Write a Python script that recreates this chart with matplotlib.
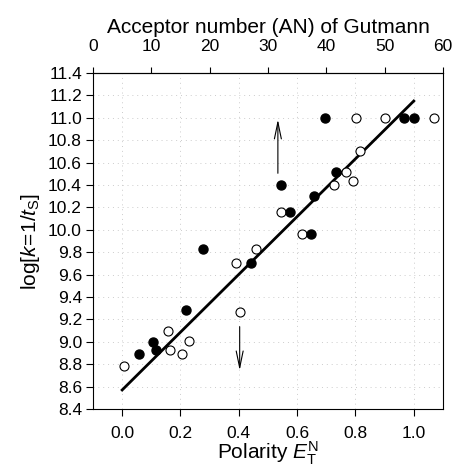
import matplotlib.pyplot as plt

# open circles
open_x = [0.005, 0.156, 0.164, 0.206, 0.230, 0.389, 0.403, 0.46, 0.546, 0.618,
          0.725, 0.766, 0.792, 0.802, 0.814, 0.901, 1.07]
open_y = [8.78, 9.10, 8.93, 8.89, 9.01, 9.70, 9.27, 9.83, 10.16, 9.96,
          10.40, 10.52, 10.44, 11.0, 10.70, 11.0, 11.0]

# filled circles
full_x = [0.059, 0.105, 0.116, 0.219, 0.278, 0.442, 0.543, 0.574, 0.646, 0.659,
          0.697, 0.732, 0.967, 1.002]
full_y = [8.89, 9.00, 8.93, 9.28, 9.83, 9.70, 10.40, 10.16, 9.96, 10.30,
          11.0, 10.52, 11.0, 11.0]

# regression line
fit_x = [0.0, 1.0]
fit_y = [8.57, 11.15]

# arrows (x, y_start, y_end)
arrows = [(0.403, 9.16, 8.72), (0.534, 10.48, 11.01)]

plt.rcParams['font.family'] = ['Liberation Sans', 'DejaVu Sans']
plt.rcParams['mathtext.fontset'] = 'custom'
plt.rcParams['mathtext.rm'] = 'Liberation Sans'
plt.rcParams['mathtext.it'] = 'Liberation Sans:italic'

fig = plt.figure(figsize=(4.59, 4.66), dpi=100)
ax = fig.add_axes([0.2026, 0.1223, 0.7624, 0.721])

ax.grid(True, color='#cccccc', linestyle=(0, (1, 4)), linewidth=0.7)
ax.set_axisbelow(True)

ax.plot(fit_x, fit_y, color='black', linewidth=2, zorder=2)
ax.plot(open_x, open_y, 'o', markersize=6.5, markerfacecolor='white',
        markeredgecolor='black', markeredgewidth=0.8, zorder=3)
ax.plot(full_x, full_y, 'o', markersize=6.5, markerfacecolor='black',
        markeredgecolor='black', zorder=3)

for x, y0, y1 in arrows:
    ax.annotate('', xy=(x, y1), xytext=(x, y0),
                arrowprops=dict(arrowstyle='->,head_length=1.2,head_width=0.25',
                                color='black', linewidth=0.8))

ax.set_xlim(-0.1, 1.1)
ax.set_ylim(8.4, 11.4)
ax.set_xticks([0.0, 0.2, 0.4, 0.6, 0.8, 1.0])
ax.set_yticks([8.4 + 0.2 * i for i in range(16)])
ax.set_xticklabels(['0.0', '0.2', '0.4', '0.6', '0.8', '1.0'])
ax.set_yticklabels(['%.1f' % (8.4 + 0.2 * i) for i in range(16)])
ax.tick_params(axis='y', labelsize=12.5, direction='out', length=5, width=0.8, pad=3)
ax.tick_params(axis='x', labelsize=12.5, direction='out', length=5, width=0.8, pad=7)

ax.set_xlabel(r'Polarity $E_{\rm T}^{\rm N}$', fontsize=15, labelpad=-1)
ax.set_ylabel(r'log$[k\!=\!1/t_{\rm S}]$', fontsize=15, labelpad=4)

top = ax.secondary_xaxis('top', functions=(lambda e: (e + 0.1) * 50, lambda a: a / 50 - 0.1))
top.set_xticks([0, 10, 20, 30, 40, 50, 60])
top.tick_params(labelsize=12.5, direction='out', length=4, width=0.8, pad=10)
top.set_xlabel('Acceptor number (AN) of Gutmann', fontsize=15, labelpad=4)

for s in ax.spines.values():
    s.set_linewidth(0.8)

plt.savefig('out.png', dpi=100)
